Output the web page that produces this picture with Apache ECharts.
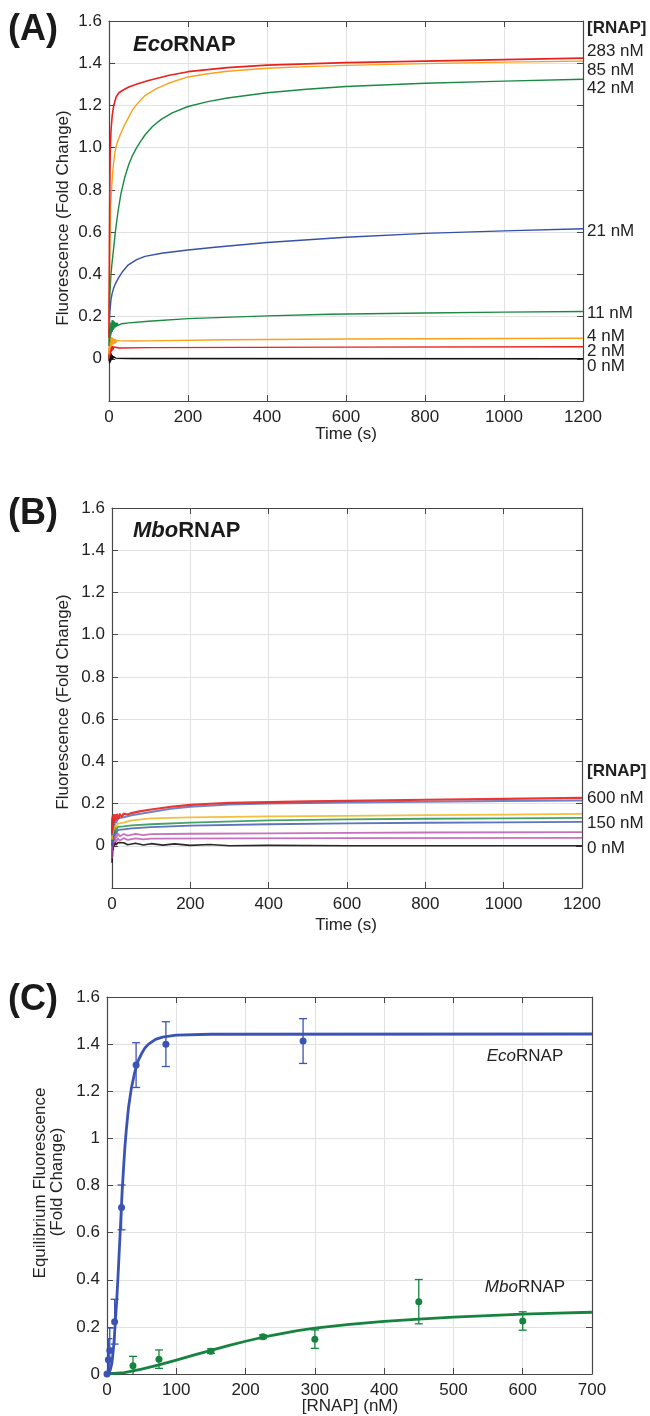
<!DOCTYPE html>
<html><head><meta charset="utf-8">
<script src="https://cdn.jsdelivr.net/npm/echarts@6/dist/echarts.min.js"></script>
<style>html,body{margin:0;padding:0;background:#fff}#c{width:650px;height:1416px}</style>
</head><body><div id="c"></div>
<script>
// ---------- Panel A: EcoRNAP kinetic traces [time (s), fold change] ----------
const ecoA_283 = [[0,0.1],[1,0.5],[2,0.8],[3,0.97],[5,1.08],[8,1.15],[12,1.2],[18,1.24],[25,1.26],[35,1.272],[50,1.287],[75,1.304],[100,1.318],[150,1.342],[200,1.36],[300,1.379],[400,1.391],[600,1.403],[800,1.41],[1000,1.417],[1200,1.424]];
const ecoA_85 = [[0,0.15],[2,0.5],[4,0.72],[7,0.82],[10,0.9],[15,0.98],[20,1.02],[28,1.06],[40,1.11],[50,1.145],[60,1.18],[70,1.205],[90,1.245],[120,1.28],[150,1.305],[200,1.335],[250,1.35],[300,1.362],[400,1.376],[500,1.384],[600,1.39],[800,1.398],[1000,1.405],[1200,1.41]];
const ecoA_42 = [[0,0.2],[2,0.3],[5,0.4],[8,0.46],[11,0.51],[16,0.6],[23,0.7],[30,0.78],[40,0.86],[50,0.92],[60,0.965],[70,1.0],[80,1.03],[91,1.06],[110,1.1],[133,1.135],[160,1.165],[200,1.195],[250,1.218],[300,1.235],[400,1.26],[500,1.277],[600,1.29],[800,1.305],[1000,1.315],[1200,1.324]];
const ecoA_21 = [[0,0.12],[2,0.22],[5,0.28],[8,0.31],[11,0.33],[16,0.355],[23,0.38],[35,0.415],[49,0.445],[70,0.47],[91,0.485],[133,0.5],[200,0.515],[268,0.528],[400,0.551],[600,0.576],[800,0.594],[1000,0.606],[1200,0.616]];
const ecoA_11 = [[0,0.06],[0.7,0.13],[1.4,0.08],[2.1,0.15],[2.8,0.1],[3.5,0.16],[4.2,0.11],[4.9,0.17],[5.6,0.12],[6.3,0.17],[7,0.13],[7.7,0.18],[8.4,0.13],[9.1,0.17],[9.8,0.14],[10.5,0.18],[11.2,0.14],[11.9,0.17],[12.6,0.145],[13.3,0.175],[14,0.15],[15.4,0.17],[16.8,0.152],[18.2,0.168],[19.6,0.155],[21,0.168],[23,0.158],[25,0.167],[28,0.162],[32,0.166],[50,0.17],[100,0.178],[200,0.19],[400,0.203],[558,0.211],[800,0.217],[1000,0.221],[1200,0.224]];
const ecoA_4 = [[0,0.02],[0.7,0.1],[1.4,0.04],[2.1,0.11],[2.8,0.05],[3.5,0.11],[4.2,0.06],[4.9,0.1],[5.6,0.06],[6.3,0.1],[7,0.065],[7.7,0.1],[8.4,0.07],[9.1,0.095],[9.8,0.07],[10.5,0.095],[11.9,0.072],[13.3,0.092],[14.7,0.075],[16.1,0.09],[17.5,0.077],[19.6,0.088],[22,0.079],[25,0.086],[30,0.082],[60,0.084],[100,0.085],[300,0.09],[600,0.094],[1200,0.097]];
const ecoA_2 = [[0,0.0],[0.7,0.05],[1.4,0.01],[2.1,0.06],[2.8,0.02],[3.5,0.06],[4.2,0.03],[4.9,0.06],[5.6,0.035],[6.3,0.06],[7.7,0.04],[9.1,0.058],[10.5,0.045],[12,0.056],[14,0.048],[17,0.053],[25,0.051],[100,0.053],[600,0.055],[1200,0.057]];
const ecoA_0 = [[0,-0.01],[0.7,0.03],[1.4,-0.02],[2.1,0.035],[2.8,-0.015],[3.5,0.03],[4.2,-0.01],[4.9,0.025],[5.6,-0.005],[6.3,0.02],[7,-0.002],[8.4,0.015],[9.8,0.0],[11.2,0.01],[12.6,0.002],[14,0.008],[17,0.003],[22,0.005],[30,0.002],[60,0.001],[1200,0]];
const ecoLabels = ['283 nM','85 nM','42 nM','21 nM','11 nM','4 nM','2 nM','0 nM'];

// ---------- Panel B: MboRNAP kinetic traces ----------
const mboB_600 = [[0,0.06],[0.6,0.13],[1.2,0.09],[1.8,0.14],[2.4,0.1],[3,0.14],[4,0.11],[5,0.145],[6,0.12],[8,0.145],[10,0.125],[13,0.148],[16,0.13],[20,0.15],[25,0.138],[30,0.152],[40,0.148],[50,0.155],[70,0.163],[100,0.172],[150,0.185],[200,0.194],[250,0.199],[300,0.203],[400,0.207],[500,0.21],[600,0.213],[800,0.218],[1000,0.222],[1200,0.227]];
const mboB_450 = [[0,0.05],[0.6,0.11],[1.2,0.07],[2,0.12],[3,0.08],[4,0.12],[6,0.1],[8,0.125],[11,0.11],[15,0.13],[20,0.125],[30,0.135],[50,0.145],[100,0.16],[150,0.175],[200,0.185],[300,0.195],[400,0.2],[600,0.205],[800,0.209],[1000,0.212],[1200,0.214]];
const mboB_300 = [[0,0.03],[0.6,0.08],[1.2,0.05],[2,0.09],[3,0.06],[4,0.095],[6,0.08],[8,0.1],[11,0.09],[15,0.105],[20,0.1],[30,0.11],[50,0.12],[100,0.13],[200,0.135],[400,0.139],[600,0.142],[800,0.145],[1000,0.148],[1200,0.151]];
const mboB_225 = [[0,0.02],[0.6,0.07],[1.2,0.04],[2,0.08],[3,0.05],[4,0.085],[6,0.065],[8,0.09],[11,0.075],[15,0.09],[20,0.085],[30,0.092],[50,0.097],[100,0.102],[200,0.11],[400,0.12],[600,0.125],[800,0.128],[1000,0.13],[1200,0.132]];
const mboB_150 = [[0,0.0],[0.6,0.05],[1.2,0.02],[2,0.06],[3,0.04],[4,0.065],[6,0.05],[8,0.07],[11,0.06],[15,0.075],[20,0.07],[30,0.078],[50,0.082],[100,0.088],[200,0.095],[400,0.102],[600,0.106],[800,0.109],[1000,0.111],[1200,0.113]];
const mboB_75 = [[0,-0.03],[0.6,0.03],[1.2,0.0],[2,0.04],[3,0.02],[4,0.05],[6,0.03],[8,0.055],[11,0.04],[15,0.058],[20,0.045],[30,0.056],[40,0.048],[60,0.056],[80,0.05],[100,0.055],[200,0.057],[400,0.059],[600,0.061],[800,0.063],[1200,0.065]];
const mboB_37 = [[0,-0.06],[0.6,0.01],[1.2,-0.02],[2,0.02],[3,0.0],[4,0.03],[6,0.015],[8,0.035],[11,0.02],[15,0.035],[20,0.025],[30,0.036],[40,0.028],[60,0.035],[80,0.03],[100,0.034],[300,0.035],[600,0.036],[1200,0.037]];
const mboB_0 = [[0,-0.08],[0.6,-0.02],[1.2,-0.05],[2,0.0],[3,-0.02],[4,0.01],[6,0.0],[8,0.015],[11,0.005],[15,0.015],[20,0.006],[30,0.014],[40,0.005],[60,0.012],[80,0.004],[100,0.01],[130,0.003],[160,0.009],[200,0.002],[250,0.006],[300,0.0],[400,0.002],[600,0.0],[1200,0.0]];
const mboLabels = ['600 nM','150 nM','0 nM'];

// ---------- Panel C: equilibrium fluorescence ----------
const ecoConc = [0,2,4,11,21,42,85,283];
const ecoMean = [0,0.06,0.10,0.222,0.707,1.311,1.40,1.413];
const ecoErr  = [0,0.09,0.095,0.095,0.095,0.095,0.095,0.095];
const ecoFit = [[0,0],[3,0.005],[5,0.02],[7,0.045],[8,0.07],[10,0.13],[12,0.22],[14,0.31],[16,0.42],[18,0.54],[20,0.66],[22,0.78],[24,0.88],[26,0.97],[28,1.04],[31,1.13],[35,1.21],[40,1.28],[45,1.33],[50,1.36],[55,1.385],[60,1.4],[70,1.42],[80,1.43],[100,1.438],[150,1.442],[700,1.443]];
const mboConc = [37.5,75,150,225,300,450,600];
const mboMean = [0.035,0.063,0.097,0.158,0.148,0.307,0.225];
const mboErr  = [0.04,0.039,0.01,0.008,0.039,0.094,0.039];
const mboFit = [[0,0],[25,0.006],[50,0.021],[75,0.039],[100,0.059],[125,0.08],[150,0.1],[175,0.12],[200,0.139],[225,0.156],[250,0.17],[275,0.184],[300,0.195],[350,0.211],[400,0.223],[450,0.233],[500,0.241],[550,0.248],[600,0.254],[650,0.258],[700,0.262]];

const FONT = '"Liberation Sans", Arial, Helvetica, sans-serif';
const AX = '#474747';
const GRIDC = '#e2e2e2';

function fmtA(v){ if (Math.abs(v) < 1e-9) return '0'; if (v < 0) return ''; return v.toFixed(1); }
function fmtC(v){ return String(Math.round(v*10)/10); }
function fmtX(v){ return String(Math.round(v)); }

function axes(gi, xmin, xmax, xint, ymin, ymax, yint, yfmt){
  const line = {show:true, onZero:false, lineStyle:{color:AX, width:1.2}};
  const tick = {show:true, inside:true, length:6, lineStyle:{color:AX, width:1}};
  const lab = {color:'#222', fontSize:17, fontFamily:FONT};
  return {
    x:[
      {gridIndex:gi, type:'value', position:'bottom', min:xmin, max:xmax, interval:xint, axisLine:line, axisTick:tick,
       axisLabel:Object.assign({margin:8, formatter:fmtX}, lab), splitLine:{show:true, lineStyle:{color:GRIDC, width:1}}},
      {gridIndex:gi, type:'value', position:'top', min:xmin, max:xmax, interval:xint, axisLine:line, axisTick:tick,
       axisLabel:{show:false}, splitLine:{show:false}}
    ],
    y:[
      {gridIndex:gi, type:'value', position:'left', min:ymin, max:ymax, interval:yint, axisLine:line, axisTick:tick,
       axisLabel:Object.assign({margin:7, formatter:yfmt}, lab), splitLine:{show:true, lineStyle:{color:GRIDC, width:1}}},
      {gridIndex:gi, type:'value', position:'right', min:ymin, max:ymax, interval:yint, axisLine:line, axisTick:tick,
       axisLabel:{show:false}, splitLine:{show:false}}
    ]
  };
}
const aA = axes(0, 0, 1200, 200, -0.2, 1.6, 0.2, fmtA);
const aB = axes(1, 0, 1200, 200, -0.2, 1.6, 0.2, fmtA);
const aC = axes(2, 0, 700, 100, 0, 1.6, 0.2, fmtC);

function trace(ai, data, color, w, op){
  return {type:'line', xAxisIndex:ai, yAxisIndex:ai, data:data, showSymbol:false, symbol:'none',
    smooth:false, lineStyle:{color:color, width:w, opacity:op||1, join:'round'}, z:3, silent:true};
}
function errSeries(conc, mean, err, color){
  return {type:'custom', xAxisIndex:4, yAxisIndex:4, clip:true, z:4,
    data: conc.map((c,i)=>[c, mean[i], err[i]]),
    encode:{x:0, y:1},
    renderItem:function(params, api){
      const x = api.value(0), y = api.value(1), e = api.value(2);
      if (!e) return null;
      const t = api.coord([x, y+e]), b = api.coord([x, y-e]);
      const st = {stroke:color, lineWidth:1.3};
      return {type:'group', children:[
        {type:'line', shape:{x1:t[0], y1:t[1], x2:b[0], y2:b[1]}, style:st},
        {type:'line', shape:{x1:t[0]-4, y1:t[1], x2:t[0]+4, y2:t[1]}, style:st},
        {type:'line', shape:{x1:b[0]-4, y1:b[1], x2:b[0]+4, y2:b[1]}, style:st}
      ]};
    }};
}

const RED='#e8211e', ORG='#f8a11c', GRN='#1a8a42', BLU='#3550ab', YEL='#f0b41c', MAG='#b443a8', BLK='#111111';
const CBLU='#3a53b5', CGRN='#16843f';

const series = [
  trace(0, ecoA_0, BLK, 1.4), trace(0, ecoA_2, RED, 1.4), trace(0, ecoA_4, ORG, 1.4), trace(0, ecoA_11, GRN, 1.4),
  trace(0, ecoA_21, BLU, 1.4), trace(0, ecoA_42, GRN, 1.4), trace(0, ecoA_85, ORG, 1.4), trace(0, ecoA_283, RED, 1.6),
  trace(2, mboB_0, BLK, 1.6, 0.9), trace(2, mboB_37, MAG, 1.8, 0.75), trace(2, mboB_75, MAG, 1.8, 0.75),
  trace(2, mboB_150, BLU, 1.8, 0.8), trace(2, mboB_225, GRN, 1.8, 0.8), trace(2, mboB_300, YEL, 1.8, 0.85),
  trace(2, mboB_450, BLU, 2.0, 0.7), trace(2, mboB_600, RED, 2.2, 0.9),
  {type:'line', xAxisIndex:4, yAxisIndex:4, data:ecoFit, showSymbol:false, symbol:'none', smooth:false, lineStyle:{color:CBLU, width:2.8, join:'round'}, z:3},
  {type:'line', xAxisIndex:4, yAxisIndex:4, data:mboFit, showSymbol:false, symbol:'none', smooth:false, lineStyle:{color:CGRN, width:2.8, join:'round'}, z:3},
  errSeries(ecoConc, ecoMean, ecoErr, CBLU),
  errSeries(mboConc, mboMean, mboErr, CGRN),
  {type:'scatter', xAxisIndex:4, yAxisIndex:4, data:ecoConc.map((c,i)=>[c, ecoMean[i]]), symbolSize:7, itemStyle:{color:CBLU, opacity:1}, z:5},
  {type:'scatter', xAxisIndex:4, yAxisIndex:4, data:mboConc.map((c,i)=>[c, mboMean[i]]), symbolSize:7, itemStyle:{color:CGRN, opacity:1}, z:5}
];

function txt(x, y, text, opts){
  opts = opts || {};
  return {type:'text', x:x, y:y, rotation:opts.rot||0, z:10,
    style:{text:text, fill:opts.fill||'#222', font:(opts.weight||'normal')+' '+(opts.size||17)+'px '+FONT,
      align:opts.align||'left', verticalAlign:'middle', rich:opts.rich}};
}
const R = Math.PI/2;
const graphics = [
  txt(8, 30, '(A)', {size:36, weight:'bold', fill:'#1a1a1a'}),
  txt(8, 514, '(B)', {size:36, weight:'bold', fill:'#1a1a1a'}),
  txt(8, 1000, '(C)', {size:36, weight:'bold', fill:'#1a1a1a'}),
  txt(133, 45, '{i|Eco}RNAP', {size:22, weight:'bold', fill:'#1a1a1a', rich:{i:{fontStyle:'italic', fontWeight:'bold', fontSize:22, fontFamily:FONT, fill:'#1a1a1a'}}}),
  txt(133, 531, '{i|Mbo}RNAP', {size:22, weight:'bold', fill:'#1a1a1a', rich:{i:{fontStyle:'italic', fontWeight:'bold', fontSize:22, fontFamily:FONT, fill:'#1a1a1a'}}}),
  txt(63.5, 218, 'Fluorescence (Fold Change)', {rot:R, align:'center'}),
  txt(63.5, 702, 'Fluorescence (Fold Change)', {rot:R, align:'center'}),
  txt(40.5, 1183, 'Equilibrium Fluorescence', {rot:R, align:'center'}),
  txt(57, 1182, '(Fold Change)', {rot:R, align:'center'}),
  txt(346, 434, 'Time (s)', {align:'center'}),
  txt(346, 925, 'Time (s)', {align:'center'}),
  txt(350, 1406, '[RNAP] (nM)', {align:'center'}),
  txt(587, 28, '[RNAP]', {weight:'bold'}),
  txt(587, 771, '[RNAP]', {weight:'bold'}),
  txt(525, 1056, '{i|Eco}RNAP', {align:'center', rich:{i:{fontStyle:'italic', fontSize:17, fontFamily:FONT, fill:'#222'}}}),
  txt(525, 1287, '{i|Mbo}RNAP', {align:'center', rich:{i:{fontStyle:'italic', fontSize:17, fontFamily:FONT, fill:'#222'}}})
];
const ecoLabelY = [51, 70, 88, 231, 313, 336, 351, 366];
ecoLabels.forEach((s,i)=>graphics.push(txt(587, ecoLabelY[i], s)));
const mboLabelY = [798, 823, 848];
mboLabels.forEach((s,i)=>graphics.push(txt(587, mboLabelY[i], s)));

const chart = echarts.init(document.getElementById('c'), null, {renderer:'canvas'});
chart.setOption({
  animation:false,
  backgroundColor:'#ffffff',
  grid:[
    {left:109, top:21, width:474, height:380, containLabel:false, outerBoundsMode:'none'},
    {left:112, top:508, width:470, height:380, containLabel:false, outerBoundsMode:'none'},
    {left:107, top:997, width:485, height:377, containLabel:false, outerBoundsMode:'none'}
  ],
  xAxis: aA.x.concat(aB.x, aC.x),
  yAxis: aA.y.concat(aB.y, aC.y),
  series: series,
  graphic: graphics
});
</script></body></html>
